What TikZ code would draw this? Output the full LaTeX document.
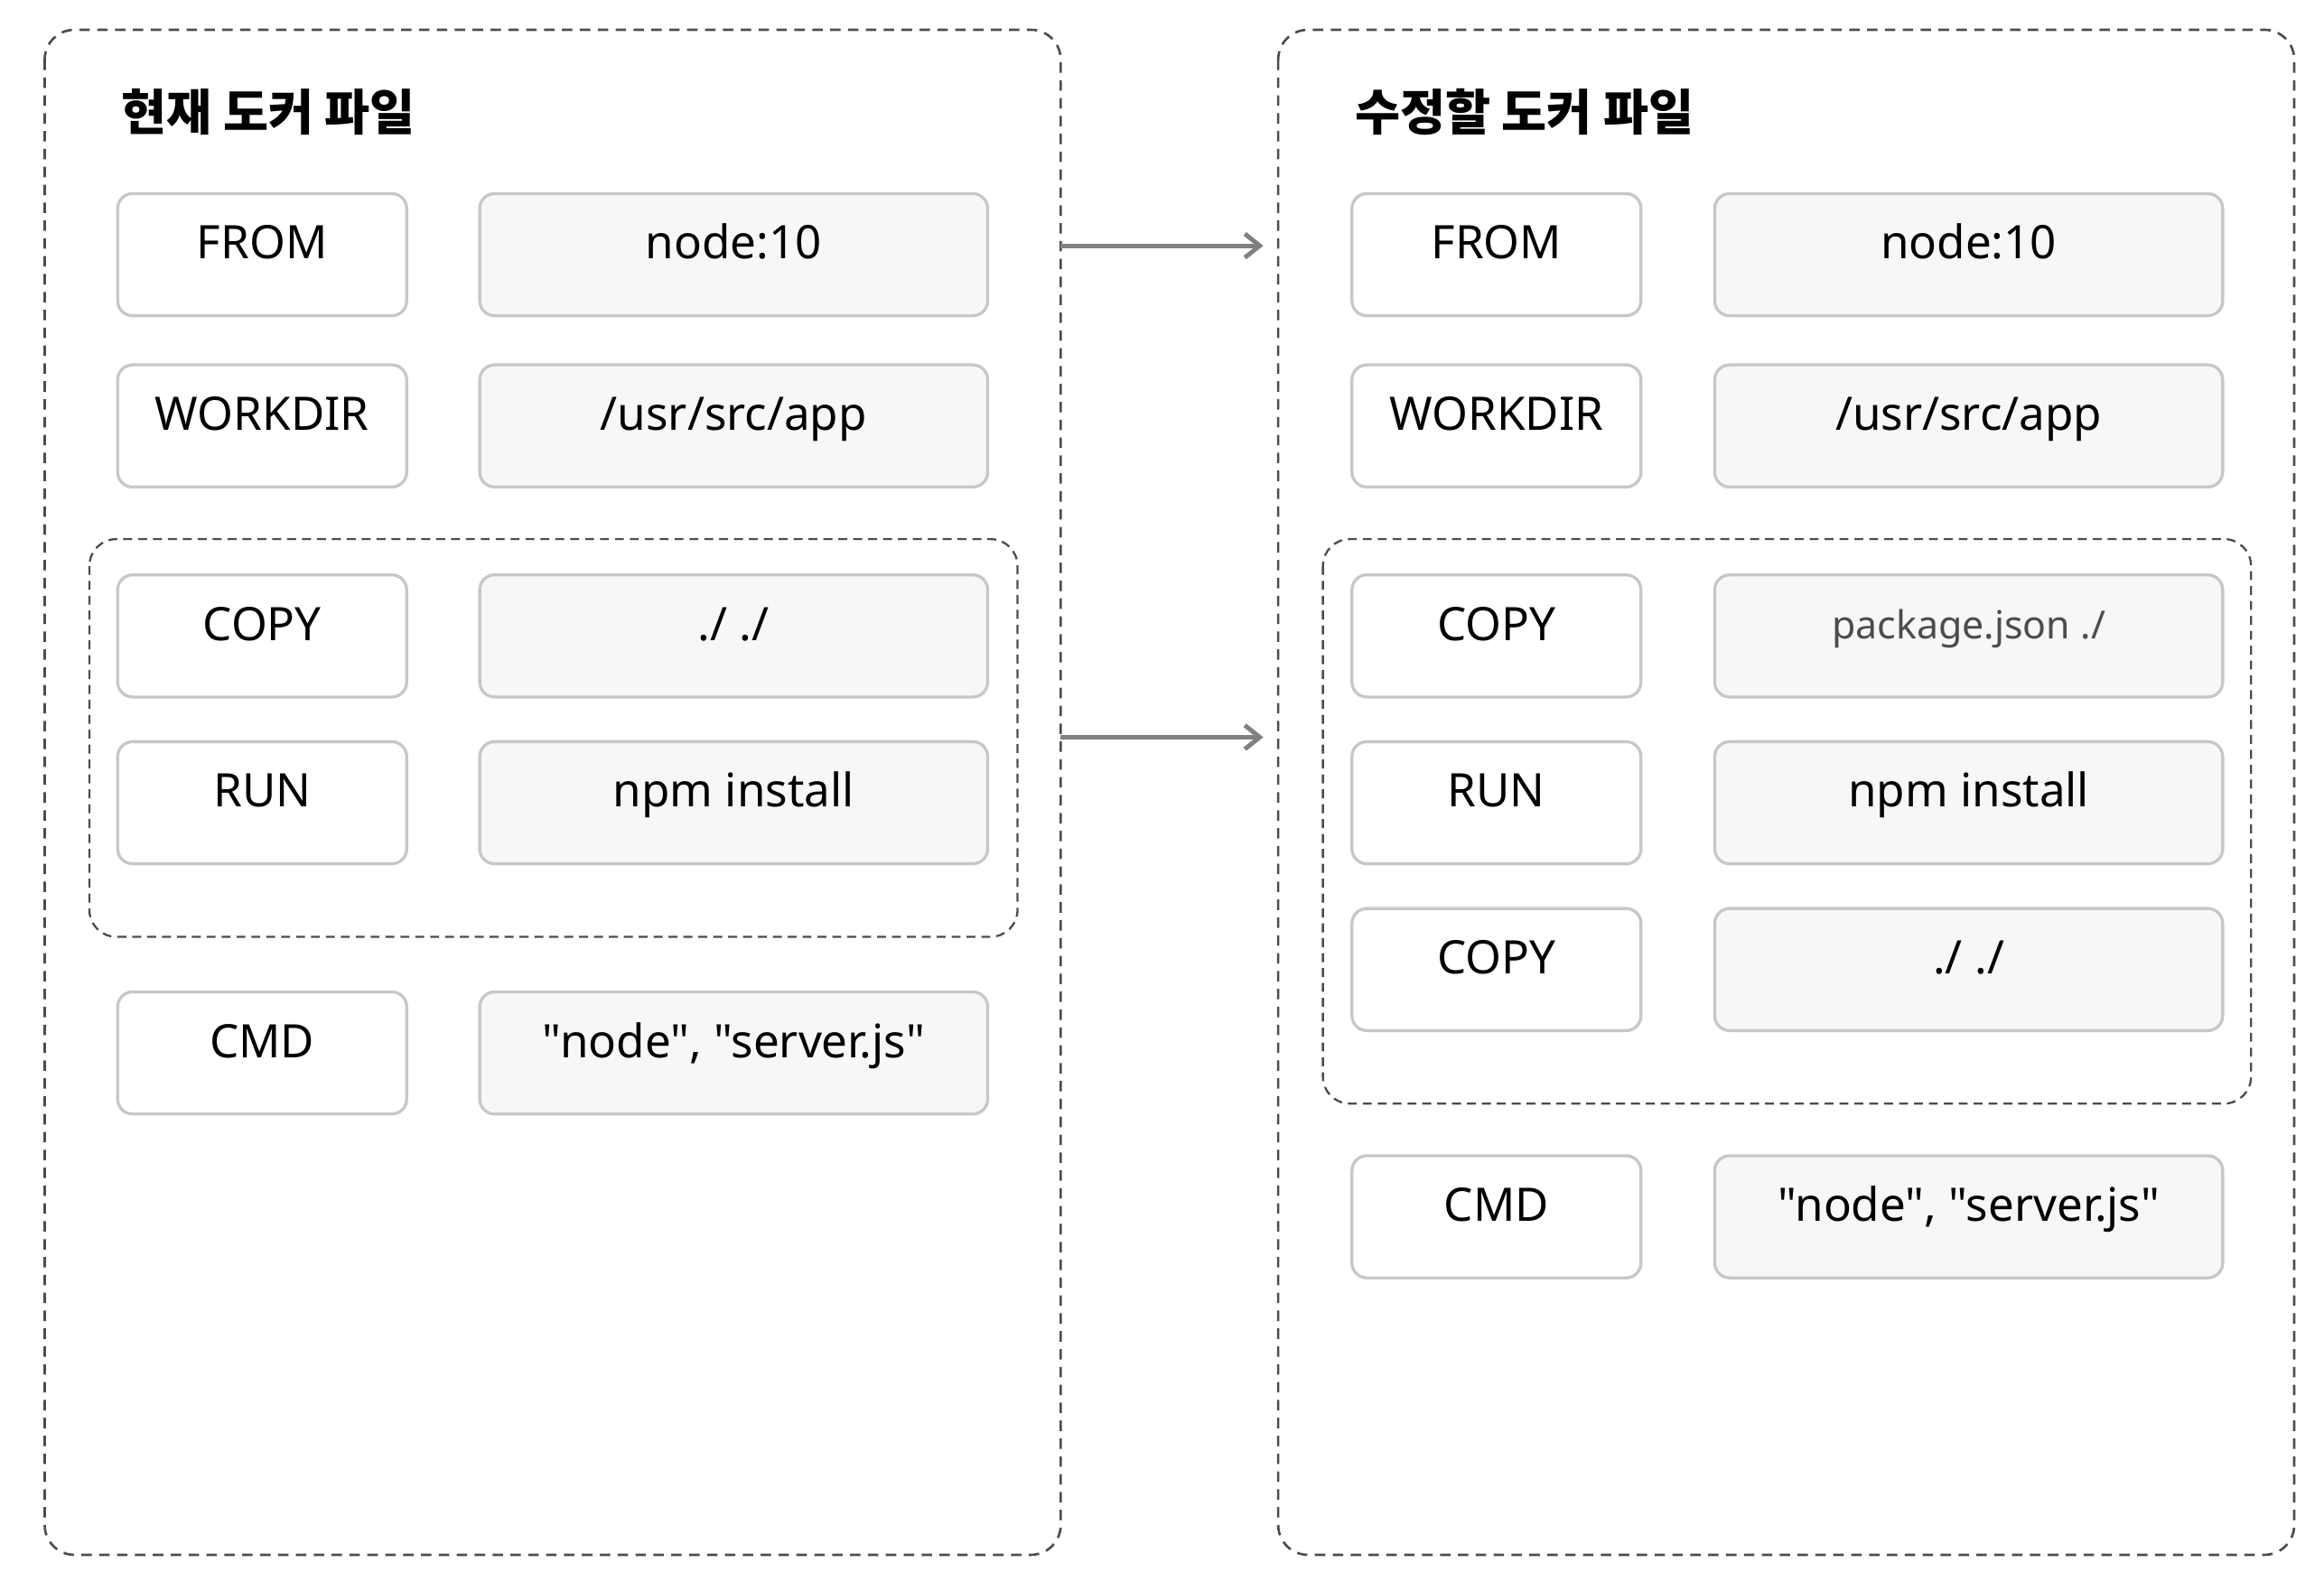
\documentclass[tikz,border=0pt]{standalone}
\usepackage{fontspec}
\setmainfont{Noto Sans}[Ligatures=TeXOff]
\newfontfamily\kr{Noto Sans CJK KR}
\usetikzlibrary{arrows.meta}
\begin{document}
\begin{tikzpicture}[x=1pt,y=-1pt,
  outer/.style={draw=black!70,line width=1.6pt,rounded corners=20pt,dash pattern=on 7pt off 5pt},
  inner/.style={draw=black!70,line width=1.4pt,rounded corners=18pt,dash pattern=on 6pt off 4pt},
  keybox/.style={draw=black!22,line width=2pt,fill=white,rounded corners=10pt,minimum width=194pt,minimum height=82pt,font=\fontsize{31}{36}\selectfont,inner sep=0pt,text height=18pt,text depth=12pt},
  valbox/.style={draw=black!22,line width=2pt,fill=black!3,rounded corners=10pt,minimum width=341pt,minimum height=82pt,font=\fontsize{31}{36}\selectfont,inner sep=0pt,text height=18pt,text depth=12pt},
  title/.style={anchor=west,font=\kr\fontsize{33}{38}\selectfont},
  arr/.style={draw=black!50,line width=3pt,->,>={Straight Barb[length=10pt,width=16pt]}}]
\useasboundingbox (0,0) rectangle (1560,1068);
\draw[outer] (30,20) rectangle (712,1044);
\draw[outer] (858,20) rectangle (1540,1044);
\draw[inner] (60,362) rectangle (683,629);
\draw[inner] (888,362) rectangle (1511,741);
\node[title] (t1) at (78,75) {\bfseries 현재 도커 파일};
\node[title] (t2) at (906,75) {\bfseries 수정할 도커 파일};
% left
\node[keybox] (lk1) at (176,171) {FROM};
\node[valbox] (lv1) at (492.5,171) {node:10};
\node[keybox] (lk2) at (176,286) {WORKDIR};
\node[valbox] (lv2) at (492.5,286) {/usr/src/app};
\node[keybox] (lk3) at (176,427) {COPY};
\node[valbox] (lv3) at (492.5,427) {./ ./};
\node[keybox] (lk4) at (176,539) {RUN};
\node[valbox] (lv4) at (492.5,539) {npm install};
\node[keybox] (lk5) at (176,707) {CMD};
\node[valbox] (lv5) at (492.5,707) {"node", "server.js"};
% right
\node[keybox] (rk1) at (1004.5,171) {FROM};
\node[valbox] (rv1) at (1321.5,171) {node:10};
\node[keybox] (rk2) at (1004.5,286) {WORKDIR};
\node[valbox] (rv2) at (1321.5,286) {/usr/src/app};
\node[keybox] (rk3) at (1004.5,427) {COPY};
\node[valbox,font=\fontsize{26}{30}\selectfont,text=black!70,text height=15pt,text depth=11pt] (rv3) at (1321.5,427) {package.json ./};
\node[keybox] (rk4) at (1004.5,539) {RUN};
\node[valbox] (rv4) at (1321.5,539) {npm install};
\node[keybox] (rk5) at (1004.5,651) {COPY};
\node[valbox] (rv5) at (1321.5,651) {./ ./};
\node[keybox] (rk6) at (1004.5,817) {CMD};
\node[valbox] (rv6) at (1321.5,817) {"node", "server.js"};
\coordinate (a1s) at (712,165); \coordinate (a1e) at (848,165);
\coordinate (a2s) at (712,495); \coordinate (a2e) at (848,495);
\draw[arr] (a1s) -- (a1e);
\draw[arr] (a2s) -- (a2e);
\end{tikzpicture}
\end{document}
